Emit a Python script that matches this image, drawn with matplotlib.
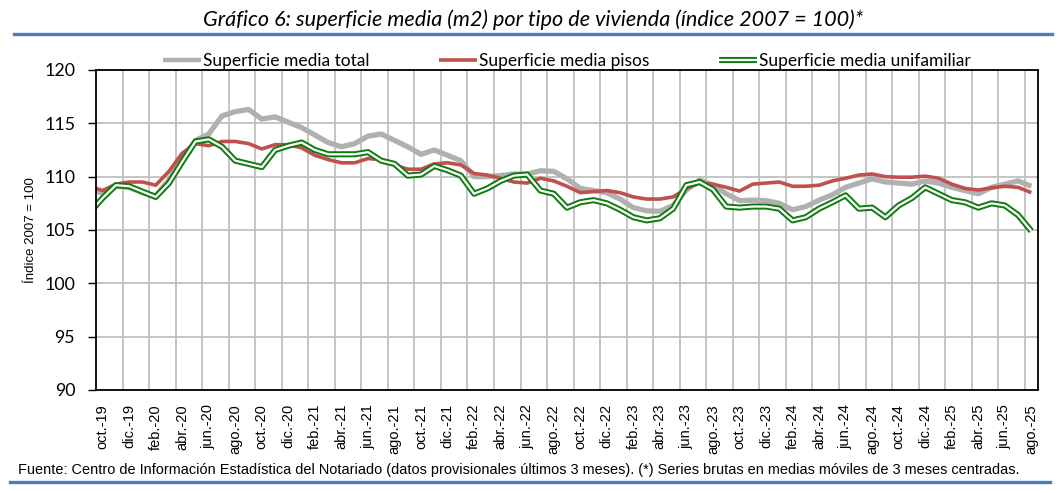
import matplotlib
matplotlib.use("Agg")
import matplotlib.pyplot as plt
from matplotlib.lines import Line2D
import numpy as np

# ---------------- data ----------------
month_abbr = ["ene.", "feb.", "mar.", "abr.", "may.", "jun.",
              "jul.", "ago.", "sep.", "oct.", "nov.", "dic."]
start_year, start_month = 2019, 9   # sep.-19 (partly outside the visible range)
n_months = 72                        # sep.-19 ... ago.-25

total = [108.7,
         108.5, 109.1, 109.0, 108.5, 108.2, 109.7, 111.7, 113.4, 114.0, 115.7,
         116.1, 116.3, 115.4, 115.6, 115.1, 114.6, 113.9, 113.2, 112.8, 113.1,
         113.8, 114.0, 113.4, 112.8, 112.1, 112.5, 112.0, 111.5, 110.0, 110.0,
         110.1, 110.25, 110.25, 110.55, 110.5, 109.8, 108.9, 108.7, 108.5, 107.9,
         107.1, 106.8, 106.75, 107.3, 108.75, 109.7, 109.2, 108.4, 107.75, 107.8,
         107.75, 107.5, 106.9, 107.2, 107.8, 108.3, 109.0, 109.4, 109.8, 109.5,
         109.4, 109.3, 109.6, 109.4, 109.0, 108.7, 108.4, 109.0, 109.3, 109.6,
         109.1]

pisos = [109.1,
         108.7, 109.3, 109.5, 109.5, 109.2, 110.5, 112.2, 113.1, 112.9, 113.3,
         113.3, 113.1, 112.6, 113.0, 113.0, 112.7, 112.0, 111.6, 111.3, 111.3,
         111.7, 111.6, 111.1, 110.7, 110.7, 111.2, 111.3, 111.1, 110.3, 110.15,
         109.85, 109.5, 109.4, 109.85, 109.6, 109.1, 108.5, 108.6, 108.7, 108.5,
         108.1, 107.9, 107.9, 108.1, 108.9, 109.4, 109.3, 109.0, 108.65, 109.3,
         109.4, 109.5, 109.1, 109.1, 109.2, 109.6, 109.85, 110.15, 110.25, 110.0,
         109.95, 109.95, 110.05, 109.85, 109.3, 108.9, 108.75, 108.95, 109.1, 109.0,
         108.5]

unifamiliar = [106.6,
               108.0, 109.2, 109.1, 108.6, 108.1, 109.4, 111.4, 113.3, 113.5, 112.8,
               111.5, 111.2, 110.9, 112.5, 112.9, 113.2, 112.5, 112.1, 112.1, 112.1,
               112.3, 111.5, 111.2, 110.1, 110.2, 111.0, 110.6, 110.1, 108.4, 108.9,
               109.6, 110.1, 110.2, 108.7, 108.4, 107.1, 107.6, 107.8, 107.5, 106.9,
               106.2, 105.9, 106.1, 107.0, 109.2, 109.5, 108.8, 107.2, 107.1, 107.2,
               107.2, 107.0, 105.9, 106.2, 107.0, 107.6, 108.25, 107.0, 107.1, 106.2,
               107.3, 108.0, 109.0, 108.4, 107.8, 107.6, 107.1, 107.5, 107.3, 106.4,
               104.9]

series_names = ["Superficie media total", "Superficie media pisos",
                "Superficie media unifamiliar"]

title = "Gráfico 6: superficie media (m2) por tipo de vivienda (índice 2007 = 100)*"
ylabel = "Índice 2007 = 100"
footer = ("Fuente: Centro de Información Estadística del Notariado (datos provisionales "
          "últimos 3 meses). (*) Series brutas en medias móviles de 3 meses centradas.")

yticks = [90, 95, 100, 105, 110, 115, 120]

# month labels
labels = []
for k in range(n_months):
    m = (start_month - 1 + k) % 12
    y = start_year + (start_month - 1 + k) // 12
    labels.append(f"{month_abbr[m]}-{y % 100:02d}")

# ---------------- figure ----------------
W, H = 1059, 493
fig = plt.figure(figsize=(W / 100, H / 100), dpi=100)
ax = fig.add_axes([96 / W, 1 - 390 / H, (1038 - 96) / W, (390 - 70) / H])

x = np.arange(n_months) - 1        # sep.-19 at -1, oct.-19 at 0

calib = ["Lato", "DejaVu Sans"]
arial = ["Liberation Sans", "DejaVu Sans"]

c_gray = "#b0b0b0"
c_red = "#c0504d"
c_green = "#0f7a0f"

ax.plot(x, total, color=c_gray, lw=3.8, solid_capstyle="butt", zorder=3)
ax.plot(x, pisos, color=c_red, lw=2.6, solid_capstyle="butt", zorder=4)
ax.plot(x, unifamiliar, color=c_green, lw=4.4, solid_capstyle="butt", zorder=5)
ax.plot(x, unifamiliar, color="white", lw=1.6, solid_capstyle="butt", zorder=6)

ax.set_xlim(-0.5, 70.5)
ax.set_ylim(90, 120)
ax.set_yticks(yticks)
ax.set_yticklabels([str(v) for v in yticks], family=calib, fontsize=12.8)

tick_pos = np.arange(0, 71, 2)
ax.set_xticks(tick_pos)
ax.set_xticklabels([labels[p + 1] for p in tick_pos], rotation=90,
                   family=arial, fontsize=10.5, va="top", ha="center")
ax.set_xticks(np.arange(1.5, 70, 2), minor=True)

ax.tick_params(axis="x", which="both", length=0, pad=10)
ax.tick_params(axis="y", which="major", length=6, width=1.0, direction="out", pad=9)

ax.grid(False)
ax.xaxis.grid(True, which="minor", color="#c0c0c0", lw=1.3)
ax.yaxis.grid(True, which="major", color="#c0c0c0", lw=1.3)
ax.set_axisbelow(True)
for s in ax.spines.values():
    s.set_color("black")
    s.set_linewidth(1.3)
    s.set_zorder(10)

ax.set_ylabel(ylabel, family=arial, fontsize=9.5)
ax.yaxis.set_label_coords(-(96 - 37) / 942, 0.5)

# legend
h_total = Line2D([], [], color=c_gray, lw=3.2, solid_capstyle="butt")
h_pisos = Line2D([], [], color=c_red, lw=2.6, solid_capstyle="butt")
h_uni = (Line2D([], [], color=c_green, lw=4.4, solid_capstyle="butt"),
         Line2D([], [], color="white", lw=1.6, solid_capstyle="butt"))
leg = fig.legend([h_total, h_pisos, h_uni], series_names, loc="center left",
                 bbox_to_anchor=(163 / W, 1 - 61 / H), ncol=3, frameon=False,
                 prop={"family": calib, "size": 12.5},
                 handlelength=2.2, handletextpad=0.1, columnspacing=4.0,
                 borderaxespad=0, borderpad=0)

# title and rules
fig.text(533 / W, 1 - 20 / H, title, ha="center", va="center",
         family=calib, style="italic", fontsize=15.6)
fig.add_artist(Line2D([14 / W, 1052 / W], [1 - 34 / H, 1 - 34 / H],
                      color="#4a7ebb", lw=2.4, transform=fig.transFigure))
fig.text(18 / W, 1 - 470 / H, footer, ha="left", va="center",
         family=arial, fontsize=10.45)
fig.add_artist(Line2D([10 / W, 1050 / W], [1 - 482 / H, 1 - 482 / H],
                      color="#4a7ebb", lw=2.4, transform=fig.transFigure))

fig.savefig("out.png", dpi=100)
